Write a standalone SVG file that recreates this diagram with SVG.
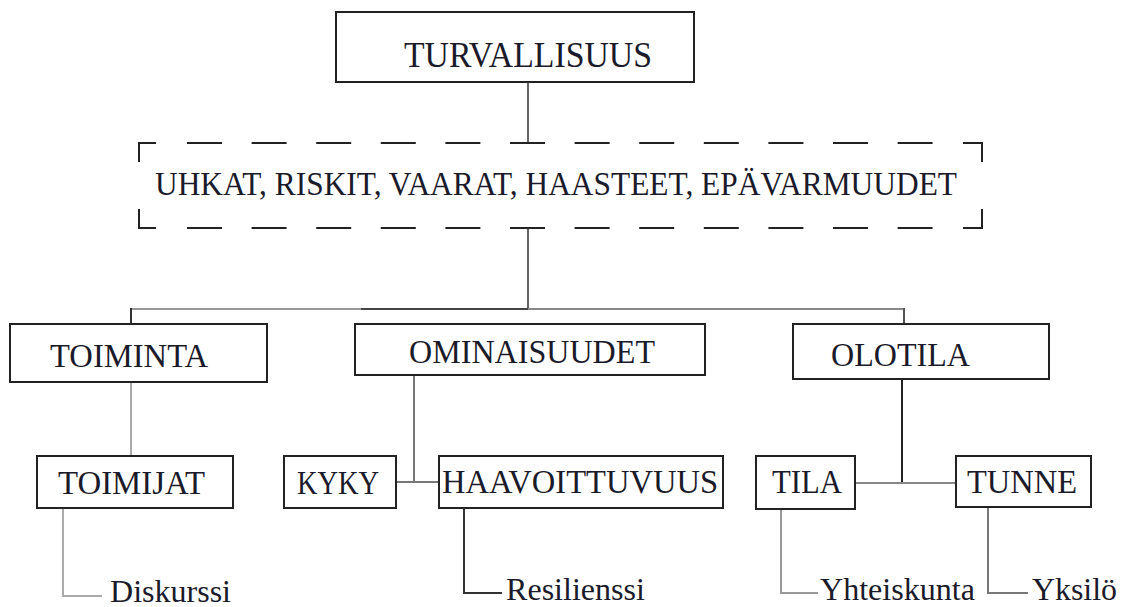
<svg xmlns="http://www.w3.org/2000/svg" width="1121" height="607" viewBox="0 0 1121 607">
<style>
.box{fill:#fff;stroke:#222;stroke-width:2}
text{font-family:'Liberation Serif','Tinos','DejaVu Serif',serif;font-size:33px;fill:#1a1a2a}
.l2{font-size:34px}
.c{fill:none;stroke-width:2}
.dash{fill:none;stroke:#222;stroke-width:2}
</style>
<rect width="1121" height="607" fill="#fff"/>
<g id="connectors">
<line class="c" x1="528" y1="82" x2="528" y2="143" stroke="#666"/>
<line class="c" x1="528" y1="228" x2="528" y2="309" stroke="#666"/>
<line class="c" x1="131" y1="309" x2="361" y2="309" stroke="#999"/>
<line class="c" x1="361" y1="309" x2="528" y2="309" stroke="#444"/>
<line class="c" x1="528" y1="309" x2="904" y2="309" stroke="#888"/>
<line class="c" x1="131" y1="308" x2="131" y2="324" stroke="#333"/>
<line class="c" x1="904" y1="308" x2="904" y2="324" stroke="#555"/>
<line class="c" x1="131" y1="382" x2="131" y2="456" stroke="#aaa"/>
<path class="c" d="M63 508 V596 H102" stroke="#aaa"/>
<line class="c" x1="414" y1="375" x2="414" y2="482" stroke="#777"/>
<line class="c" x1="396" y1="482" x2="439" y2="482" stroke="#777"/>
<path class="c" d="M464 508 V593 H502" stroke="#333"/>
<line class="c" x1="902" y1="379" x2="902" y2="483" stroke="#222"/>
<line class="c" x1="855" y1="483" x2="956" y2="483" stroke="#888"/>
<path class="c" d="M781 509 V593 H818" stroke="#999"/>
<path class="c" d="M988 507 V593 H1028" stroke="#777"/>
</g>
<g id="turvallisuus">
<rect class="box" x="336" y="12" width="358" height="70"/>
<text x="404" y="67" style="font-size:36px" textLength="248" lengthAdjust="spacingAndGlyphs">TURVALLISUUS</text>
</g>
<g id="uhkat">
<path class="dash" d="M139 162 V143 H156 M963 143 H982 V162 M139 209 V228 H156 M963 228 H982 V209"/>
<line class="dash" x1="187" y1="143" x2="933" y2="143" stroke-dasharray="35 29.6"/>
<line class="dash" x1="187" y1="228" x2="933" y2="228" stroke-dasharray="35 29.6"/>
<text x="155" y="195" textLength="802" lengthAdjust="spacingAndGlyphs">UHKAT, RISKIT, VAARAT, HAASTEET, EPÄVARMUUDET</text>
</g>
<g id="toiminta">
<rect class="box" x="10" y="324" width="257" height="58"/>
<text class="l2" x="50" y="367" textLength="158" lengthAdjust="spacingAndGlyphs">TOIMINTA</text>
</g>
<g id="ominaisuudet">
<rect class="box" x="355" y="324" width="350" height="51"/>
<text class="l2" x="409" y="363" textLength="246" lengthAdjust="spacingAndGlyphs">OMINAISUUDET</text>
</g>
<g id="olotila">
<rect class="box" x="793" y="324" width="256" height="55"/>
<text class="l2" x="831" y="366" textLength="139" lengthAdjust="spacingAndGlyphs">OLOTILA</text>
</g>
<g id="toimijat">
<rect class="box" x="37" y="456" width="196" height="52"/>
<text x="58" y="494" textLength="147" lengthAdjust="spacingAndGlyphs">TOIMIJAT</text>
</g>
<g id="kyky">
<rect class="box" x="284" y="456" width="112" height="52"/>
<text x="297" y="494" textLength="82" lengthAdjust="spacingAndGlyphs">KYKY</text>
</g>
<g id="haavoittuvuus">
<rect class="box" x="439" y="456" width="284" height="52"/>
<text x="442" y="493" textLength="276" lengthAdjust="spacingAndGlyphs">HAAVOITTUVUUS</text>
</g>
<g id="tila">
<rect class="box" x="756" y="456" width="99" height="53"/>
<text x="772" y="493" textLength="70" lengthAdjust="spacingAndGlyphs">TILA</text>
</g>
<g id="tunne">
<rect class="box" x="956" y="456" width="135" height="51"/>
<text x="967" y="493" textLength="110" lengthAdjust="spacingAndGlyphs">TUNNE</text>
</g>
<g id="diskurssi">
<text x="110" y="602" style="font-size:32px" textLength="121" lengthAdjust="spacingAndGlyphs">Diskurssi</text>
</g>
<g id="resilienssi">
<text x="506" y="600" style="font-size:32px" textLength="139" lengthAdjust="spacingAndGlyphs">Resilienssi</text>
</g>
<g id="yhteiskunta">
<text x="820" y="600" style="font-size:32px" textLength="155" lengthAdjust="spacingAndGlyphs">Yhteiskunta</text>
</g>
<g id="yksilo">
<text x="1032" y="600" style="font-size:32px" textLength="85" lengthAdjust="spacingAndGlyphs">Yksilö</text>
</g>
</svg>
